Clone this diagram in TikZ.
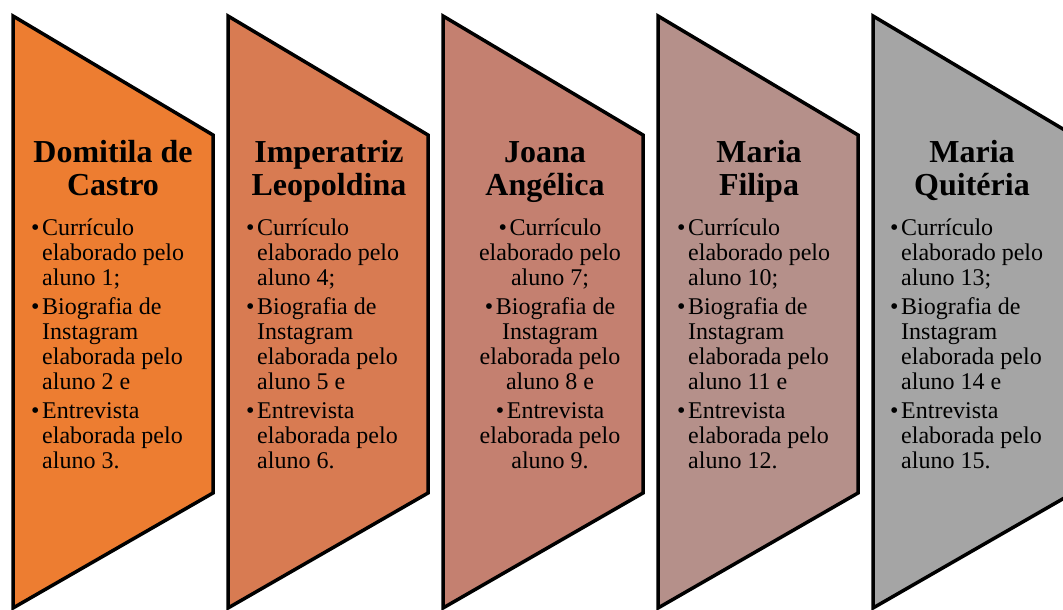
\documentclass[tikz,border=0pt]{standalone}
\usepackage{fontspec}
\setmainfont{Liberation Serif}
\definecolor{cA}{HTML}{ED7D31}
\definecolor{cB}{HTML}{D87B52}
\definecolor{cC}{HTML}{C48070}
\definecolor{cD}{HTML}{B5908A}
\definecolor{cE}{HTML}{A5A5A5}
\newcommand{\bul}{\makebox[11pt][l]{\textbullet}}
\newcommand{\ind}{\hspace*{11pt}}
\tikzset{
  shapebox/.style={draw=black, line width=3.5pt, line join=miter},
  titletext/.style={anchor=base, inner sep=0pt, font=\fontsize{32}{33}\selectfont\bfseries},
  listtext/.style={anchor=base west, inner sep=0pt, font=\fontsize{24}{25}\selectfont},
  listctext/.style={anchor=base, inner sep=0pt, font=\fontsize{24}{25}\selectfont}
}
\begin{document}
\begin{tikzpicture}[x=1pt,y=-1pt]
\useasboundingbox (0,0) rectangle (1063,610);
\clip (0,0) rectangle (1063,610);
% shapes
\foreach \i/\c in {0/cA,1/cB,2/cC,3/cD,4/cE}{
  \pgfmathsetmacro{\L}{13+215*\i}
  \pgfmathsetmacro{\R}{\L+200}
  \filldraw[shapebox, fill=\c] (\L,16) -- (\R,135) -- (\R,493) -- (\L,608) -- cycle;
}
% titles
\node[titletext] (t1) at (113,162) {\begin{tabular}[t]{@{}c@{}}Domitila de\\Castro\end{tabular}};
\node[titletext] (t2) at (329,162) {\begin{tabular}[t]{@{}c@{}}Imperatriz\\Leopoldina\end{tabular}};
\node[titletext] (t3) at (545,162) {\begin{tabular}[t]{@{}c@{}}Joana\\Angélica\end{tabular}};
\node[titletext] (t4) at (759,162) {\begin{tabular}[t]{@{}c@{}}Maria\\Filipa\end{tabular}};
\node[titletext] (t5) at (972,162) {\begin{tabular}[t]{@{}c@{}}Maria\\Quitéria\end{tabular}};
% lists
\node[listtext] (l1) at (31,235) {\begin{tabular}[t]{@{}l@{}}
\bul Currículo\\ \ind elaborado pelo\\ \ind aluno 1;\\[4pt]
\bul Biografia de\\ \ind Instagram\\ \ind elaborada pelo\\ \ind aluno 2 e\\[4pt]
\bul Entrevista\\ \ind elaborada pelo\\ \ind aluno 3.\end{tabular}};
\node[listtext] (l2) at (246,235) {\begin{tabular}[t]{@{}l@{}}
\bul Currículo\\ \ind elaborado pelo\\ \ind aluno 4;\\[4pt]
\bul Biografia de\\ \ind Instagram\\ \ind elaborada pelo\\ \ind aluno 5 e\\[4pt]
\bul Entrevista\\ \ind elaborada pelo\\ \ind aluno 6.\end{tabular}};
\node[listctext] (l3) at (550,235) {\begin{tabular}[t]{@{}c@{}}
\bul Currículo\\ elaborado pelo\\ aluno 7;\\[4pt]
\bul Biografia de\\ Instagram\\ elaborada pelo\\ aluno 8 e\\[4pt]
\bul Entrevista\\ elaborada pelo\\ aluno 9.\end{tabular}};
\node[listtext] (l4) at (677,235) {\begin{tabular}[t]{@{}l@{}}
\bul Currículo\\ \ind elaborado pelo\\ \ind aluno 10;\\[4pt]
\bul Biografia de\\ \ind Instagram\\ \ind elaborada pelo\\ \ind aluno 11 e\\[4pt]
\bul Entrevista\\ \ind elaborada pelo\\ \ind aluno 12.\end{tabular}};
\node[listtext] (l5) at (890,235) {\begin{tabular}[t]{@{}l@{}}
\bul Currículo\\ \ind elaborado pelo\\ \ind aluno 13;\\[4pt]
\bul Biografia de\\ \ind Instagram\\ \ind elaborada pelo\\ \ind aluno 14 e\\[4pt]
\bul Entrevista\\ \ind elaborada pelo\\ \ind aluno 15.\end{tabular}};
\end{tikzpicture}
\end{document}
